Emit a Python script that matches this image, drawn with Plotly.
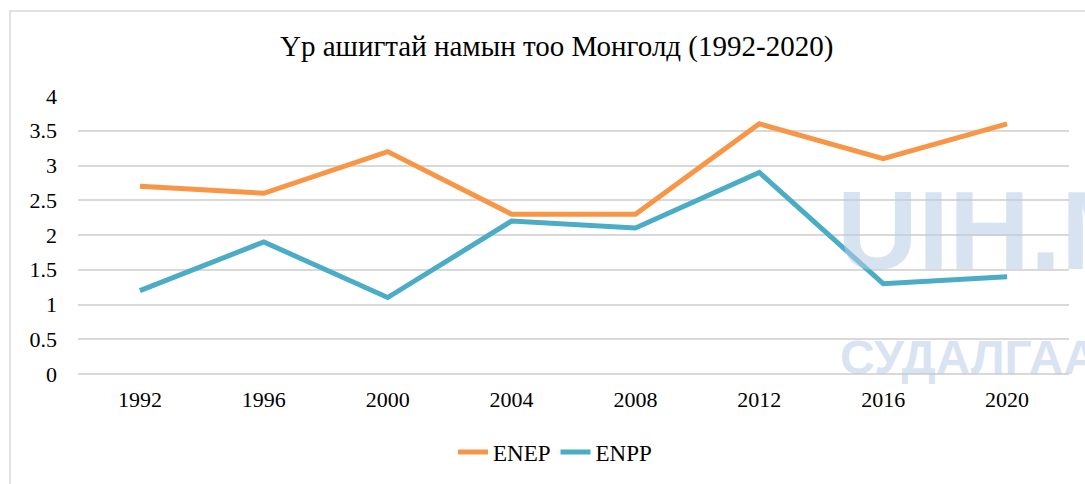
import plotly.graph_objects as go

years = ["1992", "1996", "2000", "2004", "2008", "2012", "2016", "2020"]
enep = [2.7, 2.6, 3.2, 2.3, 2.3, 3.6, 3.1, 3.6]
enpp = [1.2, 1.9, 1.1, 2.2, 2.1, 2.9, 1.3, 1.4]
y_ticks = [0, 0.5, 1, 1.5, 2, 2.5, 3, 3.5, 4]
title_text = "Үр ашигтай намын тоо Монголд (1992-2020)"

W, H = 1085, 484
L, R, T, B = 78, 16, 96, 110
pw, ph = W - L - R, H - T - B

def px(x):
    return (x - L) / pw

def py(y):
    return (H - B - y) / ph

FONT = "Liberation Serif"
WM_FONT = "Liberation Sans"
WM_COLOR = "rgba(184,204,230,0.55)"

fig = go.Figure()
fig.add_trace(go.Scatter(x=years, y=enep, name="ENEP", mode="lines",
                         line=dict(color="#F79646", width=5)))
fig.add_trace(go.Scatter(x=years, y=enpp, name="ENPP", mode="lines",
                         line=dict(color="#4BACC6", width=5)))

fig.update_layout(
    width=W, height=H,
    margin=dict(l=L, r=R, t=T, b=B, autoexpand=False),
    paper_bgcolor="white", plot_bgcolor="white",
    font=dict(family=FONT, size=22, color="#000000"),
    showlegend=True,
    legend=dict(orientation="h", x=px(555), xanchor="center", y=py(452), yanchor="middle",
                font=dict(family=FONT, size=23, color="#000000"),
                bgcolor="rgba(0,0,0,0)", itemwidth=30),
    annotations=[
        dict(text=title_text, x=px(556), y=py(47), xref="paper", yref="paper",
             showarrow=False, xanchor="center", yanchor="middle",
             font=dict(family=FONT, size=29, color="#000000")),
        dict(text="UIH.MN", x=px(835), y=py(230), xref="paper", yref="paper",
             showarrow=False, xanchor="left", yanchor="middle",
             font=dict(family=WM_FONT, size=112, color=WM_COLOR, weight="bold")),
        dict(text="СУДАЛГАА", x=px(838), y=py(357), xref="paper", yref="paper",
             showarrow=False, xanchor="left", yanchor="middle",
             font=dict(family=WM_FONT, size=48, color=WM_COLOR, weight="bold")),
    ],
    shapes=[
        dict(type="rect", xref="paper", yref="paper",
             x0=px(10), x1=px(1095), y0=py(495), y1=py(11),
             line=dict(color="#D9D9D9", width=1.5), fillcolor="rgba(0,0,0,0)", layer="below"),
    ],
)

fig.update_xaxes(type="category", range=[-0.5, 7.5], showgrid=False, showline=False,
                 zeroline=False, ticks="", ticklabelstandoff=10,
                 tickfont=dict(family=FONT, size=22, color="#000000"))
fig.update_yaxes(range=[0, 4], tickvals=y_ticks, ticktext=[f"{v:g}" for v in y_ticks],
                 showgrid=True, gridcolor="#D9D9D9", gridwidth=1.5,
                 zeroline=True, zerolinecolor="#D9D9D9", zerolinewidth=1.5,
                 showline=False, ticks="", ticklabelstandoff=20,
                 tickfont=dict(family=FONT, size=22, color="#000000"))

fig.write_html("out.html", config={"displayModeBar": False},
               post_script="document.body.style.margin='0';")
